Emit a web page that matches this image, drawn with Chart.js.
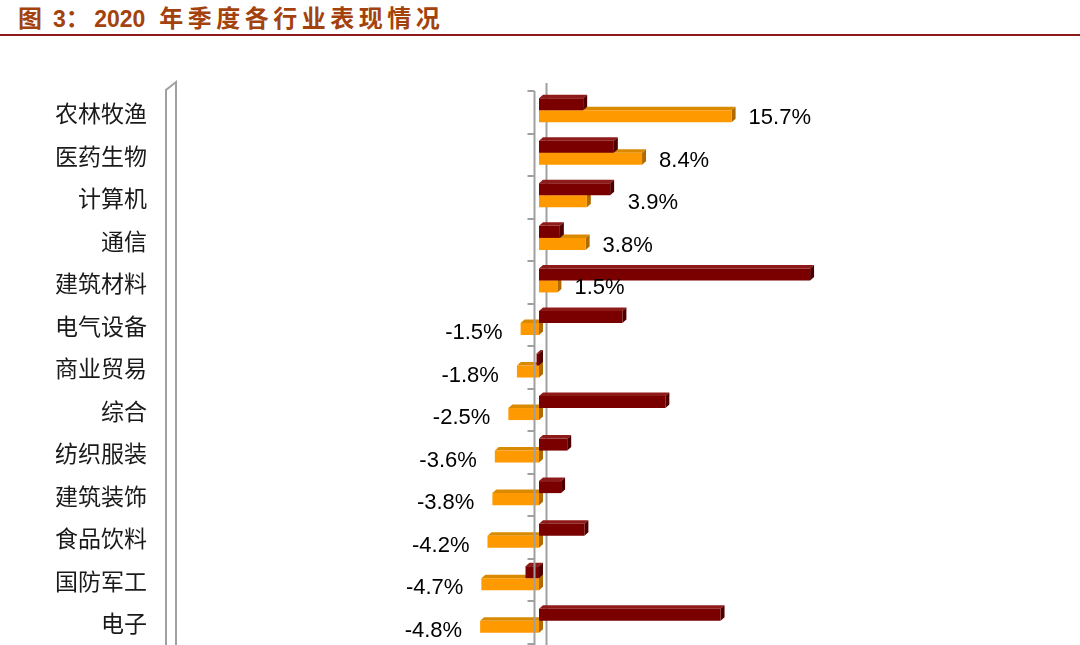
<!DOCTYPE html>
<html>
<head>
<meta charset="utf-8">
<script src="https://cdn.jsdelivr.net/npm/chart.js@4.4.1/dist/chart.umd.min.js"></script>
<style>
  html, body { margin: 0; padding: 0; background: #ffffff; }
  #wrap { position: relative; width: 1080px; height: 645px; overflow: hidden; background: #fff; }
  #title { position: absolute; left: 18px; top: 3px; font-family: "Liberation Sans", "Noto Sans CJK SC", sans-serif;
           font-weight: bold; font-size: 23px; color: #A3420C; white-space: nowrap; line-height: 28px; }
  #title .cjk { font-family: "Noto Sans CJK SC", sans-serif; font-size: 24px; letter-spacing: 4.5px; }
  #title .gap { margin-left: 14px; }
  #rule { position: absolute; left: 0; top: 34px; width: 1080px; height: 2px; background: #8E1B1B; }
  #c { position: absolute; left: 0; top: 0; }
</style>
</head>
<body>
<div id="wrap">
  <div id="title"><span class="cjk">图</span> 3<span class="cjk">：</span>2020<span class="cjk gap">年季度各行业表现情况</span></div>
  <div id="rule"></div>
  <canvas id="c" width="1080" height="645"></canvas>
</div>
<script>
// ---- data ----
const categories = ['农林牧渔','医药生物','计算机','通信','建筑材料','电气设备','商业贸易','综合','纺织服装','建筑装饰','食品饮料','国防军工','电子'];
const darkSeries = [3.6, 6.1, 5.8, 1.7, 22.1, 6.8, -0.2, 10.3, 2.3, 1.8, 3.7, -1.1, 14.8];
const orangeSeries = [15.7, 8.4, 3.9, 3.8, 1.5, -1.5, -1.8, -2.5, -3.6, -3.8, -4.2, -4.7, -4.8];
const valueMin = -30;
const valueMax = 30;

// ---- styling ----
const DX = 4, DY = 3.5;
const faceColors = [
  { top: '#8F1A1A', side: '#4E0000' },
  { top: '#D98A00', side: '#B06A00' }
];
const AXIS_GRAY = '#A0A0A0';
const labelNudge = { 2: 24 }; // manual label nudge (px) seen in the original

function barGeom(el) {
  const p = el.getProps(['x', 'y', 'base', 'height'], true);
  const left = Math.min(p.x, p.base), right = Math.max(p.x, p.base);
  return { left, right, top: p.y - p.height / 2, bottom: p.y + p.height / 2, y: p.y, x: p.x, base: p.base };
}

const threeD = {
  id: 'threeD',
  beforeDatasetsDraw(chart) {
    const ctx = chart.ctx;
    const xs = chart.scales.x, area = chart.chartArea;
    const zero = xs.getPixelForValue(0);
    ctx.save();
    ctx.strokeStyle = AXIS_GRAY;
    ctx.lineWidth = 2;
    const wl = area.left;
    ctx.beginPath();
    ctx.moveTo(wl - 5, 645); ctx.lineTo(wl - 5, area.top + 1);
    ctx.lineTo(wl + 5, area.top - 7); ctx.lineTo(wl + 5, 645);
    ctx.stroke();
    ctx.beginPath();
    ctx.moveTo(zero + 7.5, area.top - 6); ctx.lineTo(zero + 7.5, 645);
    ctx.stroke();
    [1, 0].forEach(di => {
      const meta = chart.getDatasetMeta(di);
      const fc = faceColors[di];
      meta.data.forEach(el => {
        const g = barGeom(el);
        ctx.fillStyle = fc.top;
        ctx.beginPath();
        ctx.moveTo(g.left, g.top); ctx.lineTo(g.right, g.top);
        ctx.lineTo(g.right + DX, g.top - DY); ctx.lineTo(g.left + DX, g.top - DY);
        ctx.closePath(); ctx.fill();
        ctx.fillStyle = fc.side;
        ctx.beginPath();
        ctx.moveTo(g.right, g.top); ctx.lineTo(g.right + DX, g.top - DY);
        ctx.lineTo(g.right + DX, g.bottom - DY); ctx.lineTo(g.right, g.bottom);
        ctx.closePath(); ctx.fill();
      });
    });
    ctx.restore();
  },
  afterDatasetsDraw(chart) {
    const ctx = chart.ctx;
    const xs = chart.scales.x, area = chart.chartArea;
    const zero = xs.getPixelForValue(0);
    ctx.save();
    ctx.strokeStyle = AXIS_GRAY;
    ctx.lineWidth = 2;
    const fx = zero - 4.5;
    ctx.beginPath();
    ctx.moveTo(fx, area.top + 2); ctx.lineTo(fx, 645);
    ctx.stroke();
    const band = (area.bottom - area.top) / categories.length;
    ctx.beginPath();
    for (let i = 0; i <= categories.length; i++) {
      const ty = Math.round(area.top + 2 + i * band);
      ctx.moveTo(fx - 7, ty); ctx.lineTo(fx, ty);
    }
    ctx.stroke();
    ctx.fillStyle = '#000';
    ctx.font = '22px "Liberation Sans", Arial, sans-serif';
    ctx.textBaseline = 'middle';
    const meta = chart.getDatasetMeta(1);
    meta.data.forEach((el, i) => {
      const g = barGeom(el);
      const v = orangeSeries[i];
      const txt = v.toFixed(1) + '%';
      if (v >= 0) {
        ctx.textAlign = 'left';
        ctx.fillText(txt, g.right + 17 + (labelNudge[i] || 0), g.y + 2);
      } else {
        ctx.textAlign = 'right';
        ctx.fillText(txt, g.left - 18, g.y + 4);
      }
    });
    ctx.restore();
  }
};

new Chart(document.getElementById('c'), {
  type: 'bar',
  data: {
    labels: categories,
    datasets: [
      { label: '系列1', data: darkSeries, backgroundColor: '#7A0000', borderWidth: 0 },
      { label: '系列2', data: orangeSeries, backgroundColor: '#FF9900', borderWidth: 0 }
    ]
  },
  options: {
    indexAxis: 'y',
    responsive: false,
    animation: false,
    devicePixelRatio: 1,
    categoryPercentage: 0.565,
    barPercentage: 1.0,
    layout: { autoPadding: false, padding: { left: 0, right: 173, top: 89, bottom: 3 } },
    plugins: { legend: { display: false }, tooltip: { enabled: false }, title: { display: false } },
    scales: {
      x: { type: 'linear', min: valueMin, max: valueMax, display: false },
      y: {
        type: 'category',
        grid: { display: false, drawTicks: true, tickLength: 24 },
        border: { display: false },
        afterFit(scale) { scale.width = 171; },
        ticks: {
          padding: 0,
          labelOffset: 3,
          color: '#1a1a1a',
          font: { family: '"Noto Sans CJK SC", sans-serif', size: 23, lineHeight: 0.2 }
        }
      }
    }
  },
  plugins: [threeD]
});
</script>
</body>
</html>
